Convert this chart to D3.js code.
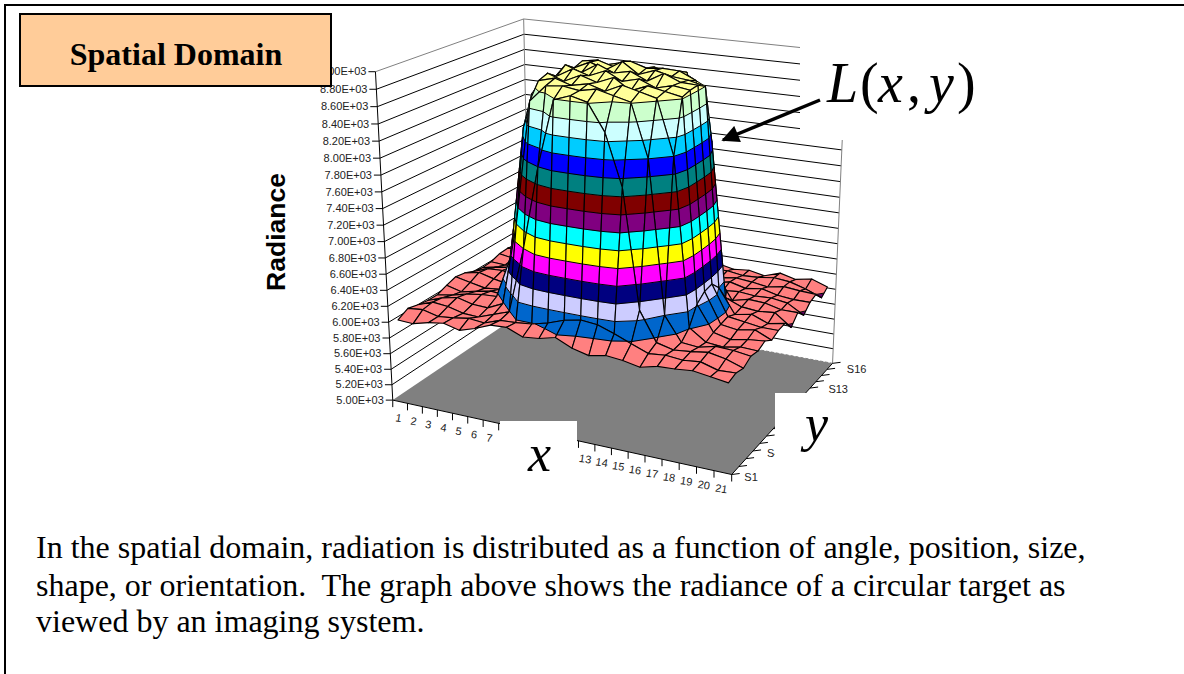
<!DOCTYPE html>
<html><head><meta charset="utf-8">
<style>html,body{margin:0;padding:0;background:#fff}svg{display:block}</style>
<script src="https://cdn.jsdelivr.net/npm/d3@7"></script></head><body>
<svg id="c" width="1184" height="674"></svg>
<script>
const categories = d3.range(1,22).map(String);
const seriesLabels = d3.range(1,17).map(i=>"S"+i);
const seriesTicksShown = ["S1","S4","S13","S16"];
const zTicks = d3.range(5000,9001,200);
const bandColors = ["#9999FF","#993366","#FFFFCC","#CCFFFF","#660066","#FF8080","#0066CC","#CCCCFF","#000080","#FF00FF","#FFFF00","#00FFFF","#800080","#800000","#008080","#0000FF","#00CCFF","#CCFFFF","#CCFFCC","#FFFF99"];
const radiance = [
[6020,6010,6060,6090,6040,6100,6180,6190,6110,6130,6180,6090,6040,6080,6060,6020,6070,6080,6100,6070,6040],
[6090,6110,6060,6080,6110,6090,6160,6170,6190,6240,6310,6350,6330,6260,6180,6100,6120,6100,6120,6060,6070],
[6060,6130,6110,6060,6050,6120,6190,7000,8000,8790,8860,8810,8500,7900,6500,6150,6100,6120,6150,6110,6040],
[6040,6110,6150,6100,6090,6180,7200,8680,8880,8900,8870,8910,8860,8810,8200,6400,6110,6090,6140,6130,6100],
[6040,6070,6120,6150,6160,6700,8300,8870,8920,8860,8900,8840,8930,8880,8830,8200,6210,6070,6050,6090,6080],
[6090,6040,6080,6120,6100,7500,8650,8910,8840,8930,8870,8950,8820,8900,8860,8820,6420,6110,6060,6100,6120],
[6130,6090,6050,6070,6100,7700,8660,8830,8940,8880,8960,8860,8910,8830,8880,8850,6500,6130,6100,6140,6050],
[6110,6150,6100,6060,6090,7750,8680,8920,8850,8970,8890,8930,8840,8950,8870,8860,6520,6150,6120,6090,6090],
[6060,6130,6140,6090,6100,7400,8640,8840,8930,8860,8980,8850,8920,8870,8850,8800,6400,6100,6140,6060,6100],
[6040,6080,6110,6120,6150,6700,8350,8880,8910,8850,8940,8880,8900,8890,8800,8100,6200,6120,6100,6120,5970],
[6050,6040,6060,6130,6110,6170,7200,8700,8810,8860,8810,8850,8800,8830,8200,6400,6090,6140,6130,6080,6080],
[6090,6060,6020,6070,6140,6090,6180,7000,7600,8340,8500,8360,8100,7800,6500,6110,6130,6110,6120,6090,5970],
[6100,6110,6060,6040,6060,6020,6080,6170,6490,6980,7120,6960,6470,6170,6100,6150,6100,6130,6080,6060,6060],
[6080,6120,6070,6040,6030,6050,6070,6120,6100,6150,6110,6090,6130,6140,6100,6130,6110,6080,6120,6100,6090],
[6090,6130,6100,6050,6020,5950,6030,6100,6090,6130,6170,6080,6150,6110,6120,6090,6100,6130,6110,6050,5970],
[6020,6070,6050,6030,6010,5980,6010,6060,6040,6120,6080,6130,6090,6110,6070,6090,6050,6120,6070,6110,6040]];
const bodyLines = ["In the spatial domain, radiation is distributed as a function of angle, position, size,",
"shape, or orientation.  The graph above shows the radiance of a circular target as",
"viewed by an imaging system."];

// camera calibration: cube position -> screen, solved by least squares
const calib = [[0,0,0,392,397],[1,0,0,727,476],[1,1,0,833,363],[0,1,0,529,309],
[0,0,1,375,72],[0,1,1,524,20],[1,1,1,847,52],[0,0,.5,384,241],[0,1,.95,524.3,35],
[12/21,0,0,591,444],[1,13/16,0,813,384],
[.98,.02,.26,727,383],[.98,.02,.26,727,383],[.02,.02,.25,395,320],[.98,.98,.26,829,282]];
function solveCamera(pts){
  const A=[],b=[];
  pts.forEach(([X,Y,Z,x,y])=>{
    A.push([X,Y,Z,1,0,0,0,0,-x*X,-x*Y,-x*Z]);b.push(x);
    A.push([0,0,0,0,X,Y,Z,1,-y*X,-y*Y,-y*Z]);b.push(y);});
  const n=11,M=d3.range(n).map(i=>d3.range(n+1).map(j=>
    j<n?d3.sum(A,r=>r[i]*r[j]):d3.sum(A,(r,k)=>r[i]*b[k])));
  for(let i=0;i<n;i++){let p=i;for(let r=i+1;r<n;r++)if(Math.abs(M[r][i])>Math.abs(M[p][i]))p=r;
    [M[i],M[p]]=[M[p],M[i]];
    for(let r=0;r<n;r++)if(r!==i){const f=M[r][i]/M[i][i];for(let c=i;c<=n;c++)M[r][c]-=f*M[i][c];}}
  return M.map((r,i)=>r[n]/r[i]);
}
const P=solveCamera(calib);
const project=(u,v,w)=>{const d=P[8]*u+P[9]*v+P[10]*w+1;
  return [(P[0]*u+P[1]*v+P[2]*w+P[3])/d,(P[4]*u+P[5]*v+P[6]*w+P[7])/d];};
const uScale=d3.scaleLinear().domain([0,categories.length-1]).range([.02,.98]);
const vScale=d3.scaleLinear().domain([0,seriesLabels.length-1]).range([.02,.98]);
const wScale=d3.scaleLinear().domain([5000,9000]).range([0,1]);
const uTick=d3.scaleLinear().domain([0,categories.length]).range([0,1]);
const vTick=d3.scaleLinear().domain([0,seriesLabels.length]).range([0,1]);

const svg=d3.select("#c");
const line=d3.line();
const poly=pts=>line(pts)+"Z";
const SANS="'Liberation Sans',Arial,sans-serif", SERIF="'Liberation Serif','Times New Roman',serif";

// outer slide border: top and left only
svg.append("path").attr("d","M5,674V5H1184").attr("fill","none").attr("stroke","#000").attr("stroke-width",2);

// floor
const chart=svg.append("g");
chart.append("path").attr("d",poly([project(0,0,0),project(1,0,0),project(1,1,0),project(0,1,0)])).attr("fill","#808080");
// walls gridlines
zTicks.forEach((z,i)=>{const w=wScale(z),top=i===zTicks.length-1;
  if(i===0){chart.append("path").attr("d",line([project(0,1,0),project(1,1,0)])).attr("fill","none").attr("stroke","#808080").attr("stroke-dasharray","3,2");
    return;}
  chart.append("path").attr("d",line([project(0,0,w),project(0,1,w),project(1,1,w)]))
    .attr("fill","none").attr("stroke",top?"#808080":"#000").attr("stroke-width",1);
});
chart.append("path").attr("d",line([project(0,1,0),project(0,1,1)])).attr("stroke","#808080").attr("fill","none");
chart.append("path").attr("d",line([project(1,1,0),project(1,1,1)])).attr("stroke","#808080").attr("fill","none");
chart.append("path").attr("d",line([project(0,0,0),project(0,0,1)])).attr("stroke","#000").attr("fill","none");
chart.append("path").attr("d",line([project(0,0,0),project(1,0,0),project(1,1,0)])).attr("stroke","#000").attr("fill","none");

// z axis
zTicks.forEach(z=>{const p=project(0,0,wScale(z));
  chart.append("path").attr("d",line([[p[0]-7,p[1]],p])).attr("stroke","#000");
  chart.append("text").attr("x",p[0]-9).attr("y",p[1]+3.7).attr("text-anchor","end")
    .attr("font-family",SANS).attr("font-size",11).attr("fill","#222")
    .text(d3.format(".2f")(z/1000)+"E+03");});
// x axis
d3.range(categories.length+1).forEach(i=>{const p=project(uTick(i),0,0);
  chart.append("path").attr("d",line([p,[p[0],p[1]+7]])).attr("stroke","#000");});
categories.forEach((c,i)=>{const p=project(uTick(i+.5),0,0);
  chart.append("text").attr("transform",`translate(${p[0]-2},${p[1]+20}) rotate(9)`).attr("text-anchor","middle")
   .attr("font-family",SANS).attr("font-size",11).attr("fill","#222").text(c);});
// y axis
d3.range(seriesLabels.length+1).forEach(j=>{const p=project(1,vTick(j),0);
  chart.append("path").attr("d",line([p,[p[0]+8,p[1]-1]])).attr("stroke","#000");});
seriesLabels.forEach((s,j)=>{ if(!seriesTicksShown.includes(s))return;
  const p=project(1,vTick(j+.5),0);
  chart.append("text").attr("x",p[0]+13+8*(j/15-.5)).attr("y",p[1]+7+(1-j/15)*4).attr("font-family",SANS).attr("font-size",11).attr("fill","#222").text(s);});

// surface: cells painted back to front, clipped into 200-wide value bands
function clip(pts,t,keepAbove){const out=[];
  pts.forEach((a,i)=>{const b=pts[(i+1)%pts.length];
    const ina=keepAbove?a[2]>=t:a[2]<=t,inb=keepAbove?b[2]>=t:b[2]<=t;
    if(ina)out.push(a);
    if(ina!==inb){const f=(t-a[2])/(b[2]-a[2]);out.push([a[0]+f*(b[0]-a[0]),a[1]+f*(b[1]-a[1]),t]);}});
  return out;}
const toScreen=p=>project(p[0],p[1],wScale(p[2]));
const surf=chart.append("g");
for(let j=seriesLabels.length-2;j>=0;j--)for(let i=0;i<categories.length-1;i++){
  const q=[[uScale(i),vScale(j),radiance[j][i]],[uScale(i+1),vScale(j),radiance[j][i+1]],
           [uScale(i+1),vScale(j+1),radiance[j+1][i+1]],[uScale(i),vScale(j+1),radiance[j+1][i]]];
  const g=surf.append("g");
  bandColors.forEach((col,k)=>{const lo=5000+k*200,hi=lo+200;
    let pts=clip(q,lo,true);if(pts.length<3)return;pts=clip(pts,hi,false);if(pts.length<3)return;
    g.append("path").attr("d",poly(pts.map(toScreen))).attr("fill",col).attr("stroke",col).attr("stroke-width",.4);
  });
  // band boundary lines
  zTicks.forEach(t=>{const c=[];
    q.forEach((a,n)=>{const b=q[(n+1)%4];
      if((a[2]<t)!==(b[2]<t)){const f=(t-a[2])/(b[2]-a[2]);c.push([a[0]+f*(b[0]-a[0]),a[1]+f*(b[1]-a[1]),t]);}});
    for(let n=0;n+1<c.length;n+=2)g.append("path").attr("d",line([toScreen(c[n]),toScreen(c[n+1])])).attr("fill","none").attr("stroke","#000").attr("stroke-width",1);
  });
  g.append("path").attr("d",poly(q.map(toScreen))).attr("fill","none").attr("stroke","#000").attr("stroke-width",1.15).attr("stroke-linejoin","round");
}

// masks and annotations
svg.append("rect").attr("x",800).attr("y",30).attr("width",200).attr("height",110).attr("fill","#fff");
svg.append("rect").attr("x",500).attr("y",421).attr("width",77).attr("height",60).attr("fill","#fff");
svg.append("rect").attr("x",775).attr("y",393).attr("width",60).attr("height",70).attr("fill","#fff");
svg.append("rect").attr("x",20).attr("y",14).attr("width",311).attr("height",72).attr("fill","#FFCC99").attr("stroke","#000").attr("stroke-width",2);
svg.append("text").attr("x",176).attr("y",65).attr("text-anchor","middle").attr("font-family",SERIF).attr("font-weight","bold").attr("font-size",32).text("Spatial Domain");
svg.append("text").attr("transform","translate(285,232) rotate(-90)").attr("text-anchor","middle").attr("font-family",SANS).attr("font-weight","bold").attr("font-size",26.5).text("Radiance");
const defs=svg.append("defs");
defs.append("marker").attr("id","ah").attr("viewBox","0 0 10 10").attr("refX",9).attr("refY",5).attr("markerWidth",5.5).attr("markerHeight",5).attr("orient","auto").attr("markerUnits","strokeWidth")
  .append("path").attr("d","M0,0L10,5L0,10Z");
svg.append("path").attr("d","M820,100L723,140").attr("stroke","#000").attr("stroke-width",3.5).attr("marker-end","url(#ah)");
const L=svg.append("text").attr("y",102).attr("font-family",SERIF).attr("font-size",56);
[["L",827,"italic"],["(",860,"normal"],["x",878,"italic"],[",",907,"normal"],["y",929,"italic"],[")",957,"normal"]].forEach(([t,x,st])=>
  L.append("tspan").attr("x",x).attr("font-style",st).text(t));
svg.append("text").attr("x",528).attr("y",471).attr("font-family",SERIF).attr("font-style","italic").attr("font-size",52).text("x");
svg.append("text").attr("x",805).attr("y",441).attr("font-family",SERIF).attr("font-style","italic").attr("font-size",52).text("y");
bodyLines.forEach((t,i)=>svg.append("text").attr("x",36).attr("y",[558,596,632][i]).attr("font-family",SERIF).attr("font-size",32).style("white-space","pre").text(t));
</script></body></html>
